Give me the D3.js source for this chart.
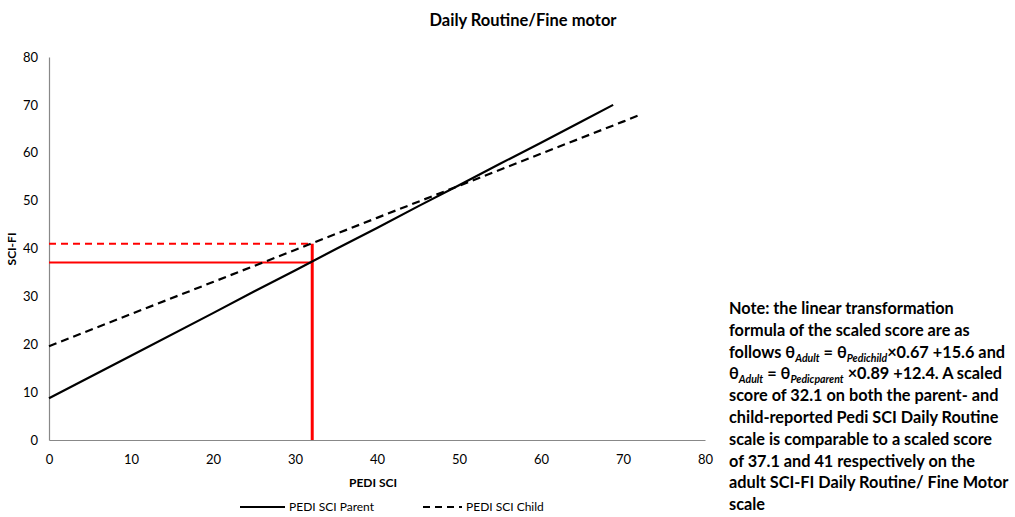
<!DOCTYPE html>
<html><head><meta charset="utf-8">
<script src="https://cdn.jsdelivr.net/npm/d3@7"></script>
<style>body{margin:0;background:#fff;} svg{font-family:Lato,"Open Sans",sans-serif;}</style>
</head><body>
<script>
const xTicks = [0,10,20,30,40,50,60,70,80];
const yTicks = [0,10,20,30,40,50,60,70,80];
const parentX = [0,10,20,25,30,35,40,45,50,55,60,65,68.8];
const parentY = [8.7,17.6,26.5,31.0,35.4,39.9,44.3,48.8,53.2,57.7,62.1,66.6,70.0];
const childX = [0,10,20,30,32.1,40,50,60,70,72.2];
const childY = [19.6,26.3,33.0,39.7,41.1,46.4,53.1,59.8,66.5,68.0];
const refX = 32.1;
const refParent = 37.1;
const refChild = 41;
const seriesNames = ["PEDI SCI Parent","PEDI SCI Child"];

const W=1015,H=517;
const svg=d3.select("body").append("svg").attr("width",W).attr("height",H);
const x=d3.scaleLinear().domain([0,80]).range([49,705]);
const y=d3.scaleLinear().domain([0,80]).range([440,57]);

svg.append("text").attr("x",523).attr("y",26).attr("text-anchor","middle")
  .attr("font-size",16.5).attr("font-weight","bold").text("Daily Routine/Fine motor");

const xa=svg.append("g").attr("transform","translate(0,440)")
  .call(d3.axisBottom(x).tickValues(xTicks).tickSize(0).tickPadding(15));
const ya=svg.append("g").attr("transform","translate(49,0)")
  .call(d3.axisLeft(y).tickValues(yTicks).tickSize(0).tickPadding(11));
[xa,ya].forEach(a=>{a.select(".domain").attr("stroke","#888").attr("stroke-width",1.2);
  a.selectAll("text").attr("font-size",13).attr("fill","#000").attr("font-family","Lato,sans-serif");});

svg.append("text").attr("x",373).attr("y",487).attr("text-anchor","middle")
  .attr("font-size",12).attr("font-weight","bold").text("PEDI SCI");
svg.append("text").attr("transform","translate(16,249) rotate(-90)").attr("text-anchor","middle")
  .attr("font-size",12).attr("font-weight","bold").text("SCI-FI");

const line=d3.line().x(d=>x(d[0])).y(d=>y(d[1]));
// red reference lines
svg.append("path").attr("d",line([[0,refParent],[refX,refParent]])).attr("stroke","#ff0000").attr("stroke-width",2).attr("fill","none");
svg.append("path").attr("d",line([[0,refChild],[refX,refChild]])).attr("stroke","#ff0000").attr("stroke-width",2).attr("stroke-dasharray","7,5").attr("fill","none");
svg.append("path").attr("d",line([[refX,0],[refX,refChild]])).attr("stroke","#ff0000").attr("stroke-width",3).attr("fill","none");

svg.append("path").attr("d",line(parentX.map((v,i)=>[v,parentY[i]]))).attr("stroke","#000").attr("stroke-width",2.2).attr("fill","none");
svg.append("path").attr("d",line(childX.map((v,i)=>[v,childY[i]]))).attr("stroke","#000").attr("stroke-width",2.2).attr("stroke-dasharray","8,5").attr("fill","none");

// legend
const lg=svg.append("g");
lg.append("line").attr("x1",240).attr("x2",285).attr("y1",507).attr("y2",507).attr("stroke","#000").attr("stroke-width",2.2);
lg.append("text").attr("x",289).attr("y",511).attr("font-size",12).text(seriesNames[0]);
lg.append("line").attr("x1",423).attr("x2",462).attr("y1",507).attr("y2",507).attr("stroke","#000").attr("stroke-width",2.2).attr("stroke-dasharray","7,5");
lg.append("text").attr("x",466).attr("y",511).attr("font-size",12).text(seriesNames[1]);

// note
const note=svg.append("text").attr("font-size",16.3).attr("font-weight","bold").attr("fill","#000");
const lines=[
 [["Note: the linear transformation"]],
 [["formula of the scaled score are as"]],
 [["follows θ"],["Adult","sub"],[" = θ"],["Pedichild","sub"],["×0.67 +15.6 and"]],
 [["θ"],["Adult","sub"],[" = θ"],["Pedicparent","sub"],[" ×0.89 +12.4. A scaled"]],
 [["score of 32.1 on both the parent- and"]],
 [["child-reported Pedi SCI Daily Routine"]],
 [["scale is comparable to a scaled score"]],
 [["of 37.1 and 41 respectively on the"]],
 [["adult SCI-FI Daily Routine/ Fine Motor"]],
 [["scale"]]
];
lines.forEach((ln,i)=>{
  const yy=314+i*21.8;
  let first=true;
  ln.forEach(seg=>{
    const t=note.append("tspan").text(seg[0]);
    if(first){t.attr("x",729).attr("y",yy);first=false;}
    if(seg[1]==="sub"){t.attr("font-size",10.5).attr("font-style","italic").attr("y",yy+4);}
    else t.attr("y",yy);
  });
});
</script>
</body></html>
